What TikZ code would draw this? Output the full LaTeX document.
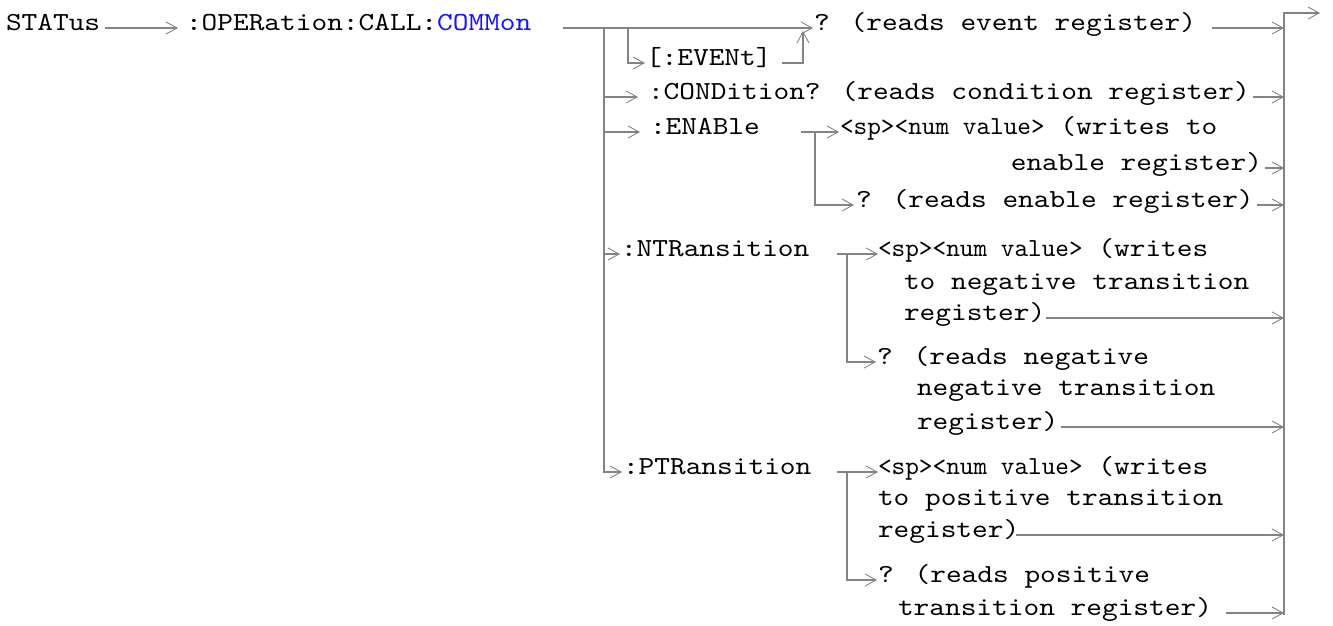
\documentclass[tikz,border=0pt]{standalone}
\usepackage{fontspec}
\usetikzlibrary{arrows.meta}
\newfontfamily\cour{lmmono10-regular.otf}[FakeStretch=1.15]
\newfontfamily\courc{lmmono10-regular.otf}[FakeStretch=1.0]
\newcommand\spnum{{\courc <sp><num value>}}
\definecolor{ln}{RGB}{132,132,132}
\definecolor{cblue}{RGB}{20,20,255}
\begin{document}
\begin{tikzpicture}[x=1pt,y=-1pt,
  lbl/.style={anchor=mid west, inner sep=0pt, outer sep=0pt, font=\cour\fontsize{26}{32}\selectfont, text=black},
  wire/.style={draw=ln, line width=1.8pt},
  arr/.style={wire, -{Straight Barb[length=11pt,width=12pt,line width=0.9pt 0]}}]
\useasboundingbox (0,0) rectangle (1333,626);
\node[lbl] (status) at (6,28) {STATus};
\node[lbl] (oper) at (186,28) {:OPERation:CALL:\textcolor{cblue}{COMMon}};
\node[lbl] (qevent) at (814,28) {? (reads event register)};
\node[lbl] (event) at (646,63) {[:EVENt]};
\node[lbl] (cond) at (648,97) {:CONDition? (reads condition register)};
\node[lbl] (enable) at (650,132) {:ENABle};
\node[lbl] (enw1) at (840,132) {\spnum{} (writes to};
\node[lbl,anchor=mid east] (enw2) at (1262,168) {enable register)};
\node[lbl] (enq) at (856,205) {? (reads enable register)};
\node[lbl] (ntr) at (621,254) {:NTRansition};
\node[lbl] (nw1) at (878,254) {\spnum{} (writes};
\node[lbl] (nw2) at (904,287) {to negative transition};
\node[lbl] (nw3) at (904,318) {register)};
\node[lbl] (nq1) at (877,362) {? (reads negative};
\node[lbl] (nq2) at (917,393) {negative transition};
\node[lbl] (nq3) at (917,427) {register)};
\node[lbl] (ptr) at (623,472) {:PTRansition};
\node[lbl] (pw1) at (878,472) {\spnum{} (writes};
\node[lbl] (pw2) at (878,503) {to positive transition};
\node[lbl] (pw3) at (878,535) {register)};
\node[lbl] (pq1) at (878,580) {? (reads positive};
\node[lbl] (pq2) at (898,613) {transition register)};
\coordinate (rtop) at (1284,13);
\coordinate (rbot) at (1284,615);
\coordinate (out) at (1320,13);
\coordinate (trunk) at (604,28);
\coordinate (evx) at (628,28);
\coordinate (hook) at (803,63);
\coordinate (ent) at (815,132);
\coordinate (ntt) at (847,254);
\coordinate (ptt) at (847,472);
% left part
\draw[arr] ([xshift=5pt]status.mid east) -- ([xshift=-8pt]oper.mid west);
\draw[arr] ([xshift=32pt]oper.mid east) -- ([xshift=-1pt]qevent.mid west);
\draw[arr] (trunk) |- ([xshift=-1pt]ptr.mid west);
\draw[arr] (evx) |- ([xshift=-1pt]event.mid west);
\draw[arr] ([xshift=10pt]event.mid east) -- (hook) -- ([yshift=-3pt]hook |- trunk);
\draw[arr] (trunk |- cond.mid west) -- ([xshift=-10pt]cond.mid west);
\draw[arr] (trunk |- enable.mid west) -- ([xshift=-10pt]enable.mid west);
\draw[arr] (trunk |- ntr.mid west) -- ([xshift=-1pt]ntr.mid west);
% sub branches
\draw[arr] ([xshift=-14pt]ent) -- ([xshift=-1pt]enw1.mid west);
\draw[arr] (ent) |- ([xshift=-2pt]enq.mid west);
\draw[arr] ([xshift=-10pt]ntt) -- (nw1.mid west);
\draw[arr] (ntt) |- ([xshift=-1pt]nq1.mid west);
\draw[arr] ([xshift=-10pt]ptt) -- (pw1.mid west);
\draw[arr] (ptt) |- ([xshift=-1pt]pq1.mid west);
% right connectors
\draw[arr] ([xshift=16pt]qevent.mid east) -- (qevent.mid east -| rtop);
\draw[arr] ([xshift=3pt]cond.mid east) -- (cond.mid east -| rtop);
\draw[arr] ([xshift=3pt]enw2.mid east) -- (enw2.mid east -| rtop);
\draw[arr] ([xshift=3pt]enq.mid east) -- (enq.mid east -| rtop);
\draw[arr] ([xshift=1pt]nw3.mid east) -- (nw3.mid east -| rtop);
\draw[arr] ([xshift=3pt]nq3.mid east) -- (nq3.mid east -| rtop);
\draw[arr] ([xshift=-3pt]pw3.mid east) -- (pw3.mid east -| rtop);
\draw[arr] ([xshift=14pt]pq2.mid east) -- (pq2.mid east -| rtop);
\draw[arr] (rbot) -- (rtop) -- (out);
\end{tikzpicture}
\end{document}
